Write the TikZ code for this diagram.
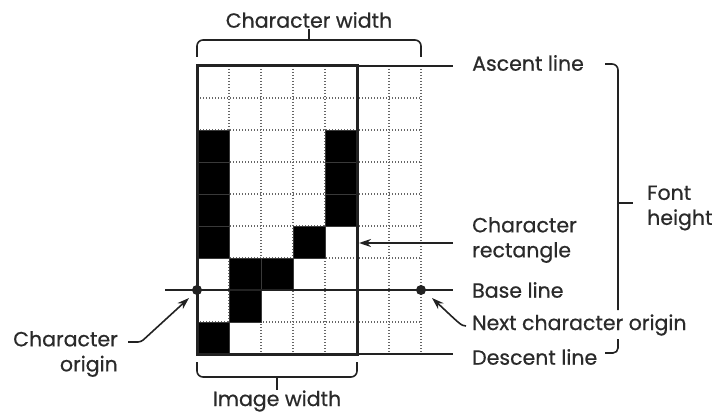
\documentclass[tikz,border=0pt]{standalone}
\usepackage{fontspec}
\setmainfont{Poppins}[FakeBold=0.6]
\usetikzlibrary{arrows.meta}
\definecolor{ink}{HTML}{222222}
\definecolor{txt}{HTML}{2a2a2a}
\begin{document}
\begin{tikzpicture}[x=1pt,y=-1pt,
  lbl/.style={text=txt,font=\fontsize{20.5}{25}\selectfont,inner sep=0pt},
  thinline/.style={draw=ink,line width=1.6pt},
  gridline/.style={draw=gray!80!black,line width=1.1pt,dash pattern=on 1.2pt off 1.8pt},
  blackcell/.style={fill=black,draw=gray!45!black,line width=0.8pt},
  arr/.style={thinline,-{Stealth[length=12pt,width=8pt]}},
  dotmark/.style={circle,fill=ink,inner sep=0pt,minimum size=10pt}
]
\useasboundingbox (0,0) rectangle (714,414);
% grid
\foreach \i in {1,...,7} \draw[gridline] (197+32*\i,66) -- (197+32*\i,354);
\foreach \j in {1,...,8} \draw[gridline] (197,66+32*\j) -- (421,66+32*\j);
% black cells
\foreach \c/\r in {0/2,0/3,0/4,0/5,4/2,4/3,4/4,3/5,1/6,2/6,1/7,0/8}
  \draw[blackcell] (197+32*\c,66+32*\r) rectangle ++(32,32);
% reference lines
\coordinate (tl) at (197,66);
\coordinate (bl) at (197,354);
\coordinate (co) at (197,290);
\coordinate (nco) at (421,290);
\coordinate (bs) at (165,290);
\draw[thinline] (tl) -- (453,66);
\draw[thinline] (bl) -- (453,354);
\draw[thinline] (bs) -- (453,290);
% character rectangle
\draw[draw=ink,line width=3pt] (197,66) rectangle (357,354);
\node[dotmark] (dco) at (co) {};
\node[dotmark] (dnco) at (nco) {};
% labels right
\node[lbl,anchor=west] (asc) at (472,63) {Ascent line};
\node[lbl,anchor=west,align=left] (crect) at (472,240) {Character\\rectangle};
\node[lbl,anchor=west] (base) at (472,290) {Base line};
\node[lbl,anchor=west] (next) at (472,325) {Next character origin};
\node[lbl,anchor=west] (desc) at (472,357) {Descent line};
\node[lbl,anchor=west,align=left] (font) at (647,208) {Font\\height};
\node[lbl,anchor=east,align=right] (corig) at (118,354) {Character\\origin};
\node[lbl] (cw) at (309,20) {Character width};
\node[lbl] (iw) at (277,401) {Image width};
% arrows
\coordinate (rtip) at (359,243);
\draw[arr] (453,243) -- (rtip);
\coordinate (ntip) at (432,298);
\draw[arr] (466,326) .. controls (461,326) and (459,323) .. (ntip);
\coordinate (ctip) at (189,298);
\draw[arr,rounded corners=3pt] (128,342) -- (141,342) -- (ctip);
% braces
\draw[thinline,rounded corners=6pt] (197,57) -- (197,40) -- (421,40) -- (421,57);
\draw[thinline] (309,40) -- (309,29);
\draw[thinline,rounded corners=6pt] (197,362) -- (197,377) -- (357,377) -- (357,362);
\draw[thinline] (277,377) -- (277,390);
% font height bracket
\draw[thinline,rounded corners=6pt] (605,64) -- (618,64) -- (618,310);
\draw[thinline] (618,203) -- (633,203);
\draw[thinline,rounded corners=5pt] (618,339) -- (618,353) -- (605,353);
\end{tikzpicture}
\end{document}
